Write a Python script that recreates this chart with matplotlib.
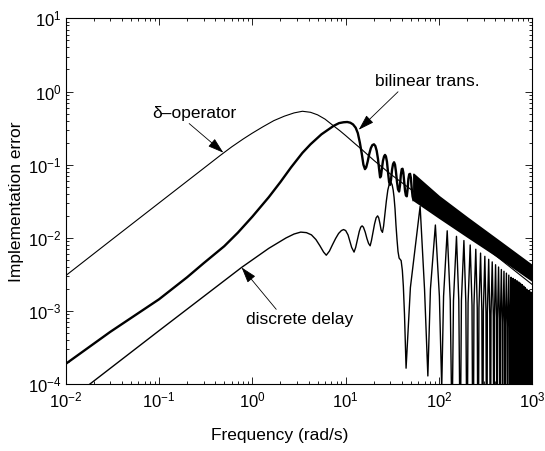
import matplotlib
matplotlib.use("Agg")
import matplotlib.pyplot as plt

plt.rcParams['font.family'] = ['Liberation Sans', 'DejaVu Sans']
plt.rcParams['mathtext.fontset'] = 'custom'
plt.rcParams['mathtext.rm'] = 'Liberation Sans'
plt.rcParams['mathtext.it'] = 'Liberation Sans'
plt.rcParams['mathtext.default'] = 'regular'

# --- delta-operator implementation error ---
delta_f = [0.01, 0.03, 0.1, 0.3, 0.45, 0.6, 0.8, 1.0, 1.3, 1.7, 2.2, 2.8, 3.44, 4.2, 5.0, 6.0,
           7.4, 8.7, 10, 12.5, 15, 20, 30, 62.7, 150, 400, 1000]
delta_v = [0.00305, 0.0091, 0.030, 0.089, 0.133, 0.175, 0.225, 0.27, 0.33, 0.40, 0.46, 0.51, 0.537,
           0.52, 0.48, 0.42, 0.34, 0.29, 0.25, 0.195, 0.16, 0.115, 0.075, 0.037, 0.0155, 0.0058,
           0.0023]

# --- bilinear transformation error (resolved part) ---
bil_f = [0.01, 0.03, 0.1, 0.2, 0.3, 0.5, 0.7, 1.0, 1.5, 2.0, 2.6, 3.44, 4.2, 5.5, 7.45, 8.5, 9.5,
         10.4, 11.2, 12.0, 12.8, 13.5, 14.2, 14.9, 15.5, 16.1, 16.6, 17.2, 17.9, 18.6, 19.3, 20.1,
         20.8, 21.5, 22.2, 22.8, 23.4, 23.9, 24.5, 25.1, 25.8, 26.4, 27.0, 27.7, 28.4, 29.2, 29.9,
         30.6, 31.4, 32.2, 33.0, 33.8, 34.6, 35.5, 36.4, 37.4, 38.2, 39.0, 39.9, 40.7, 41.5,
         42.4, 43.3, 44.2, 45.2, 46.1, 47.0, 48.0, 49.0, 50.0, 51.0, 52.1, 53.2]
bil_v = [1.9e-4, 5.2e-4, 1.45e-3, 2.9e-3, 4.5e-3, 7.7e-3, 0.0118, 0.0195, 0.036, 0.058, 0.092,
         0.145, 0.19, 0.26, 0.34, 0.37, 0.38, 0.383, 0.375, 0.355, 0.32, 0.27, 0.20, 0.14, 0.10,
         0.087, 0.092, 0.110, 0.140, 0.168, 0.185, 0.19, 0.18, 0.155, 0.12, 0.088, 0.067, 0.070,
         0.090, 0.113, 0.130, 0.136, 0.130, 0.110, 0.080, 0.058, 0.053, 0.062, 0.085, 0.102,
         0.108, 0.100, 0.080, 0.058, 0.046, 0.043, 0.052, 0.072, 0.087, 0.088, 0.078, 0.058,
         0.044, 0.038, 0.037, 0.046, 0.064, 0.074, 0.075, 0.066, 0.048, 0.037, 0.033]
# dense high-frequency ripple of the bilinear error: band between lobe tops and bottoms
band_f = [53.2, 100, 200, 450, 1000]
band_hi = [0.075, 0.037, 0.019, 0.0089, 0.0042]
band_lo = [0.033, 0.019, 0.0105, 0.0053, 0.0026]

# --- discrete delay error ---
dd_f = [0.01, 0.1, 0.767, 1.5, 2.3, 2.8, 3.3, 3.8, 4.3, 4.8, 5.3, 5.8, 6.2, 6.7, 7.2, 7.8, 8.4,
        9.0, 9.5, 10.0, 10.6, 11.1, 11.6, 12.3, 12.8, 13.3, 14.0, 14.5, 15.0, 15.5, 16.2, 16.9,
        17.6, 18.3, 18.9, 19.6, 20.4, 21.2, 22.0, 22.6, 23.3, 24.0, 24.8, 25.5, 26.3, 27.3, 28.3,
        29.3, 30.2, 30.7, 31.5, 32.3, 33.0, 33.8, 34.6, 35.5, 36.4, 37.4, 38.3, 39.3, 40.5, 41.5,
        42.7]
dd_v = [5.6e-5, 5.4e-4, 0.00395, 0.0072, 0.0100, 0.0113, 0.0120, 0.0118, 0.0110, 0.0095, 0.0078,
        0.0064, 0.0058, 0.0066, 0.0080, 0.0098, 0.0115, 0.0126, 0.0130, 0.0126, 0.0110, 0.0090,
        0.0074, 0.0064, 0.0074, 0.0092, 0.0123, 0.0140, 0.0146, 0.0140, 0.0120, 0.0098, 0.0084,
        0.0078, 0.0092, 0.0118, 0.0155, 0.0188, 0.0200, 0.0188, 0.0157, 0.0128, 0.0119, 0.0145,
        0.021, 0.032, 0.045, 0.054, 0.057, 0.057, 0.053, 0.045, 0.036, 0.025, 0.015, 0.0095,
        0.0065, 0.0053, 0.0051, 0.0049, 0.0036, 0.0022, 0.0009]
# notches, lobe peaks and shoulders above ~44 rad/s
dd_null_f = [44.4, 76, 107, 138, 169, 200, 232, 263, 294, 325, 356, 388, 419, 450, 481, 512, 544,
             575, 606, 637, 668, 700, 731, 762, 793, 824, 856, 887, 918, 949, 980]
dd_null_v = [1.66e-4, 1.3e-4, 9e-5, 2e-5, 1e-5, 5e-6] + [1e-6] * 25
dd_peak_f = [62.8, 91.5, 122.5, 154, 185, 216, 248, 279, 310, 341, 372, 404, 435, 466, 497, 528,
             560, 591, 622, 653, 684, 716, 747, 778, 809, 840, 872, 903, 934, 965, 996]
dd_peak_v = [0.027, 0.015, 0.0125, 0.0105, 0.0092, 0.0080, 0.0070, 0.0062, 0.0056, 0.0051, 0.0047,
             0.0043, 0.0040, 0.0037, 0.0035, 0.0033, 0.0031, 0.0029, 0.0028, 0.0027, 0.0026,
             0.0025, 0.0024, 0.0023, 0.0022, 0.0021, 0.0020, 0.0019, 0.0019, 0.0018, 0.0018]
dd_kink_v = [0.0021, 0.0020, 0.0016, 0.0014, 0.0014, 0.0013, 0.0012, 0.0011, 0.0010, 0.00095,
             0.0009, 0.00085, 0.0008, 0.00075, 0.0007, 0.00066, 0.00062, 0.00058, 0.00055,
             0.00052, 0.0005, 0.00048, 0.00046, 0.00044, 0.00042, 0.0004, 0.00038, 0.00037,
             0.00036, 0.00035, 0.00034]

x_ticks = [1e-2, 1e-1, 1e0, 1e1, 1e2, 1e3]
y_ticks = [1e-4, 1e-3, 1e-2, 1e-1, 1e0, 1e1]

# assemble the discrete-delay trace: smooth part, then notch / shoulder / peak per period
ddx = list(dd_f) + [dd_null_f[0]]
ddy = list(dd_v) + [dd_null_v[0]]
for k in range(len(dd_peak_f)):
    ddx.append(dd_null_f[k] + 5)
    ddy.append(dd_kink_v[k])
    ddx.append(dd_peak_f[k])
    ddy.append(dd_peak_v[k])
    if k + 1 < len(dd_null_f):
        ddx += [dd_null_f[k + 1] - 6, dd_null_f[k + 1]]
        ddy += [dd_kink_v[k + 1], dd_null_v[k + 1]]

fig = plt.figure(figsize=(5.45, 4.51), dpi=100)
ax = fig.add_axes([65.7 / 545, 1 - 384.3 / 451, 466.6 / 545, 366 / 451])

ax.loglog(delta_f, delta_v, color='k', lw=0.8)
ax.loglog(ddx, ddy, color='k', lw=1.0)
ax.loglog(bil_f, bil_v, color='k', lw=1.7, solid_joinstyle='round')
ax.fill_between(band_f, band_lo, band_hi, color='k', lw=1.2, edgecolor='k')

ax.set_xlim(1e-2, 1e3)
ax.set_ylim(1e-4, 1e1)
ax.set_xticks(x_ticks)
ax.set_yticks(y_ticks)
ax.tick_params(which='both', direction='in', top=True, right=True, labelsize=12, width=0.6)
ax.tick_params(which='major', length=5)
ax.tick_params(axis='x', which='major', pad=4.5)
ax.tick_params(axis='y', which='major', pad=3)
ax.tick_params(which='minor', length=2.5)
for s in ax.spines.values():
    s.set_linewidth(0.8)

ax.set_xlabel('Frequency (rad/s)', fontsize=12.5)
ax.set_ylabel('Implementation error', fontsize=12.5)
ax.xaxis.set_label_coords(0.459, -0.12)
ax.yaxis.set_label_coords(-0.09, 0.5)

arrow = dict(arrowstyle='-|>,head_length=0.7,head_width=0.22', color='k', lw=0.6,
             shrinkA=0, shrinkB=0, mutation_scale=14)
ax.annotate('δ–operator', xy=(0.489, 0.146), xytext=(0.239, 0.504), fontsize=12.5,
            ha='center', va='center', arrowprops=dict(arrow, relpos=(0.4, 0.0)))
ax.annotate('bilinear trans.', xy=(13.8, 0.30), xytext=(74.5, 1.37), fontsize=12.5,
            ha='center', va='center', arrowprops=dict(arrow, relpos=(0.25, 0.0)))
ax.annotate('discrete delay', xy=(0.767, 0.00395), xytext=(3.24, 7.65e-4), fontsize=12.5,
            ha='center', va='center', arrowprops=dict(arrow, relpos=(0.3, 1.0)))

fig.savefig('out.png', dpi=100)
